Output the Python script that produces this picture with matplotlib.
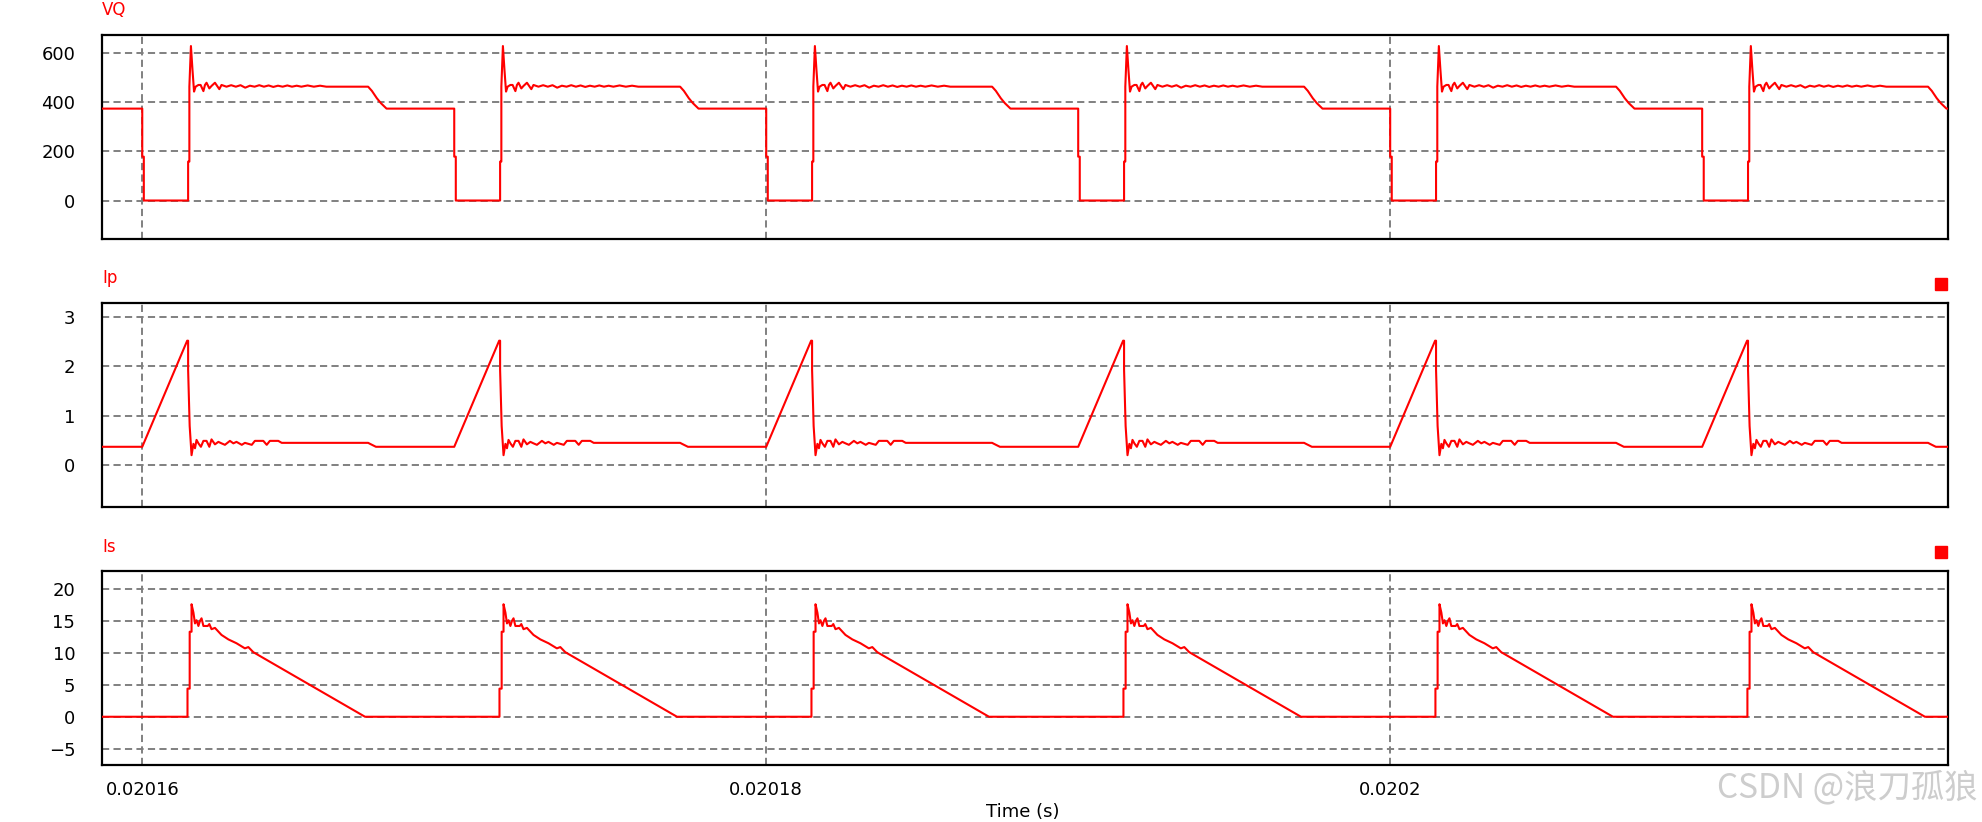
import numpy as np
from matplotlib import pyplot as plt

# switching period and first switch-on instant (s)
period = 10e-6
t_on = 0.02016
n_cycles = [-1, 0, 1, 2, 3, 4, 5]

# one switching cycle, times in microseconds after switch-on
vq_t = [0, 0, 0.05, 0.05, 1.47, 1.47, 1.51, 1.51, 1.56, 1.61, 1.66, 1.71, 1.80, 1.87,
        1.96, 2.01, 2.06, 2.15, 2.22, 2.33, 2.47, 2.54, 2.70, 2.85, 3.00, 3.15, 3.30,
        3.45, 3.60, 3.75, 3.90, 4.05, 4.20, 4.35, 4.50, 4.65, 4.80, 4.95, 5.10, 5.30,
        5.50, 5.70, 5.90, 6.02, 7.24, 7.36, 7.52, 7.65, 7.83, 10.0]
vq_v = [373, 178, 178, 0, 0, 158, 158, 462, 627, 530, 442, 462, 469, 469,
        444, 469, 478, 455, 465, 478, 452, 469, 462, 468, 462, 468, 458,
        466, 462, 468, 462, 467, 461, 466, 462, 467, 462, 466, 462, 467,
        462, 466, 462, 462, 462, 445, 415, 395, 373, 373]

ip_t = [0, 1.44, 1.47, 1.47, 1.52, 1.58, 1.64, 1.69, 1.74, 1.80, 1.88, 1.96, 2.06,
        2.15, 2.22, 2.33, 2.44, 2.54, 2.65, 2.81, 2.92, 3.02, 3.19, 3.29, 3.51,
        3.61, 3.88, 3.99, 4.09, 4.36, 4.47, 7.24, 7.30, 7.49, 10.0]
ip_v = [0.37, 2.52, 2.52, 1.93, 0.79, 0.20, 0.43, 0.34, 0.51, 0.44, 0.37, 0.49, 0.49,
        0.37, 0.52, 0.42, 0.47, 0.44, 0.41, 0.49, 0.44, 0.47, 0.41, 0.45, 0.41,
        0.49, 0.49, 0.41, 0.49, 0.49, 0.45, 0.45, 0.43, 0.37, 0.37]

is_t = [0, 1.45, 1.45, 1.52, 1.52, 1.58, 1.58, 1.64, 1.69, 1.74, 1.80, 1.85, 1.90,
        1.96, 2.10, 2.15, 2.22, 2.33, 2.54, 2.76, 3.02, 3.29, 3.40, 3.56, 7.14, 10.0]
is_v = [0, 0, 4.4, 4.4, 13.3, 13.3, 17.6, 16.3, 14.6, 15.1, 14.2, 15.0, 15.4,
        14.2, 14.2, 14.5, 13.7, 13.9, 12.8, 12.1, 11.5, 10.7, 10.9, 10.1, 0, 0]

names = ['VQ', 'Ip', 'Is']
ylims = [(-155, 673), (-0.85, 3.29), (-7.5, 22.8)]
yticks = [[0, 200, 400, 600], [0, 1, 2, 3], [-5, 0, 5, 10, 15, 20]]
xticks = [0.02016, 0.02018, 0.0202]
xtick_labels = ['0.02016', '0.02018', '0.0202']


def build(tc, vc):
    tt, vv = [], []
    for k in n_cycles:
        tt += [t_on + k * period + x * 1e-6 for x in tc]
        vv += list(vc)
    return np.array(tt), np.array(vv)


series = [build(vq_t, vq_v), build(ip_t, ip_v), build(is_t, is_v)]

W, H = 1983, 822
# axes boxes in pixels: left, top, right, bottom
boxes = [(101.7, 34.7, 1947.7, 238.7),
         (101.7, 302.7, 1947.7, 507.0),
         (101.7, 571.0, 1947.7, 764.7)]

fig = plt.figure(figsize=(W / 100, H / 100), dpi=100)
grid_style = dict(color='#808080', lw=1.4, linestyle=(0, (3.7, 2.2)))

for i in range(3):
    l, tp, r, b = boxes[i]
    ax = fig.add_axes([l / W, 1 - b / H, (r - l) / W, (b - tp) / H])
    t, v = series[i]
    ax.plot(t, v, color='#ff0000', lw=1.5, zorder=3)
    ax.set_xlim(t_on - 1.30e-6, t_on + 57.87e-6)
    ax.set_ylim(*ylims[i])
    ax.set_yticks(yticks[i])
    ax.set_xticks(xticks)
    if i == 2:
        ax.set_xticklabels(xtick_labels)
    else:
        ax.set_xticklabels([])
    ax.tick_params(axis='both', length=0, labelsize=13)
    ax.tick_params(axis='y', pad=19)
    ax.tick_params(axis='x', pad=12)
    ax.grid(True, **grid_style)
    for s in ax.spines.values():
        s.set_linewidth(1.6)
        s.set_color('black')
    # panel name above the top-left corner
    fig.text((l + 0.5) / W, 1 - (tp - 19.5) / H, names[i], color='#ff0000', fontsize=12,
             ha='left', va='baseline')
    # small red marker above the top-right corner (Ip and Is only)
    if i > 0:
        fig.patches.append(plt.Rectangle(((r - 13) / W, 1 - (tp - 13) / H), 12 / W, 12 / H,
                                         transform=fig.transFigure, color='#ff0000',
                                         figure=fig))

fig.text(1023 / W, 1.5 / H, 'Time (s)', ha='center', va='bottom', fontsize=13)
fig.text(0.9975, 1 - 788 / H, 'CSDN @浪刀孤狼', ha='right', va='center', fontsize=24,
         color='#cdcdcd', family=['Noto Sans CJK SC', 'DejaVu Sans'])

plt.savefig('out.png', dpi=100)
